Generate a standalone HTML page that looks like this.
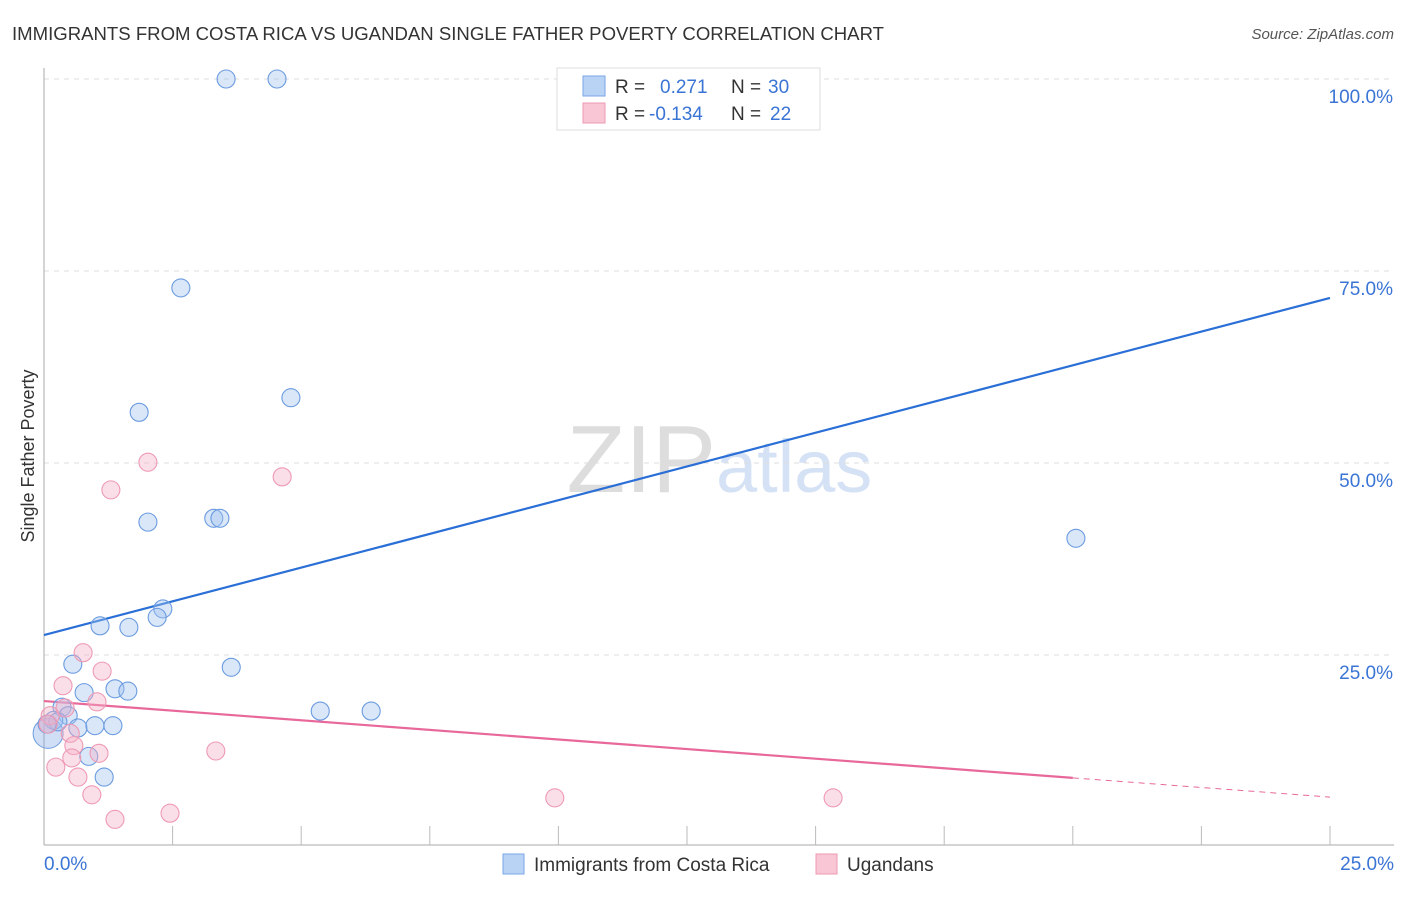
<!DOCTYPE html>
<html><head><meta charset="utf-8"><style>
body{margin:0;background:#fff;font-family:"Liberation Sans",sans-serif;}
svg text{font-family:"Liberation Sans",sans-serif;}
</style></head><body>
<svg width="1406" height="892" id="chart">
<text x="12" y="40" font-size="18" textLength="872" lengthAdjust="spacingAndGlyphs" fill="#333">IMMIGRANTS FROM COSTA RICA VS UGANDAN SINGLE FATHER POVERTY CORRELATION CHART</text>
<text x="1394" y="39" font-size="15" fill="#555" text-anchor="end" font-style="italic">Source: ZipAtlas.com</text>
<text x="716" y="492" font-size="96" fill="#ddd" text-anchor="end" font-family="Liberation Serif">ZIP</text>
<text x="716" y="492" font-size="74" fill="#d5e2f5">atlas</text>
<text transform="translate(34,456) rotate(-90)" font-size="18" fill="#333" text-anchor="middle">Single Father Poverty</text>
<g id="grid"></g><g id="axes"></g><g id="trend"></g><g id="pts"></g>
<g>
<rect x="557" y="68" width="263" height="62" fill="#fff" stroke="#ddd"/>
<rect x="583" y="76" width="22" height="20" fill="#b9d3f5" stroke="#7aa6e6"/>
<rect x="583" y="103" width="22" height="20" fill="#f8c6d5" stroke="#ee9ab3"/>
<text x="615" y="93" font-size="19" fill="#333">R = <tspan x="660" fill="#3a74d4">0.271</tspan><tspan x="731" fill="#333">N = </tspan><tspan x="768" fill="#3a74d4">30</tspan></text>
<text x="615" y="120" font-size="19" fill="#333">R = <tspan x="649" fill="#3a74d4">-0.134</tspan><tspan x="731" fill="#333">N = </tspan><tspan x="770" fill="#3a74d4">22</tspan></text>
</g>
<g>
<rect x="503" y="854" width="21" height="20" fill="#b9d3f5" stroke="#7aa6e6"/>
<text x="534" y="871" font-size="19" fill="#333">Immigrants from Costa Rica</text>
<rect x="816" y="854" width="21" height="20" fill="#f8c6d5" stroke="#ee9ab3"/>
<text x="847" y="871" font-size="19" fill="#333">Ugandans</text>
</g>
</svg>
<script>
const blueX=[3.54,4.53,2.66,1.85,4.80,2.02,3.30,3.42,2.31,2.20,1.09,1.65,0.56,3.64,0.78,1.38,1.63,0.35,0.47,0.19,0.27,0.06,0.66,0.99,1.34,0.87,1.17,5.37,6.36,20.06];
const blueY=[100,100,72.8,56.6,58.5,42.3,42.8,42.8,31.0,29.9,28.8,28.6,23.8,23.4,20.1,20.6,20.3,18.2,17.1,16.5,16.3,16.0,15.5,15.8,15.8,11.8,9.1,17.7,17.7,40.2];
const pinkX=[2.02,1.30,4.63,0.76,1.13,0.37,1.03,0.41,0.12,0.51,0.58,1.07,0.54,3.34,0.23,0.66,0.93,1.38,2.45,9.93,15.34,0.08];
const pinkY=[50.1,46.5,48.2,25.3,22.9,21.0,18.9,18.1,17.1,14.8,13.2,12.2,11.6,12.5,10.4,9.1,6.8,3.6,4.4,6.4,6.4,16.0];
const blueTrend=[27.6,71.5];
const pinkTrend=[19.0,6.5];
const yTicks=[25,50,75,100];
const yTickLabels=["25.0%","50.0%","75.0%","100.0%"];
const NS="http://www.w3.org/2000/svg";
const X=v=>44+v/25*1286, Y=v=>847-v/100*768;
function mk(t,a,p){const e=document.createElementNS(NS,t);for(const k in a)e.setAttribute(k,a[k]);p.appendChild(e);return e;}
const grid=document.getElementById('grid'),axes=document.getElementById('axes'),trend=document.getElementById('trend'),pts=document.getElementById('pts');
yTicks.forEach((v,i)=>{
 const l=mk('line',{x1:44,x2:1394,y1:Y(v),y2:Y(v),stroke:'#ddd','stroke-dasharray':'5,5'},grid);
 
 
 const t=mk('text',{x:1393,y:Y(v)+24,'font-size':19,fill:'#3a74d4','text-anchor':'end'},grid);
 t.textContent=yTickLabels[i];
 
 
});
let a=mk('line',{x1:44,x2:44,y1:68,y2:845,stroke:'#aaa'},axes);


a=mk('line',{x1:44,x2:1394,y1:845,y2:845,stroke:'#aaa'},axes);


for(let i=1;i<=10;i++){const tk=mk('line',{x1:X(i*2.5),x2:X(i*2.5),y1:826,y2:845,stroke:'#bbb'},axes);
 
 }
let xl=mk('text',{x:44,y:870,'font-size':19,fill:'#3a74d4'},axes);xl.textContent='0.0%';


xl=mk('text',{x:1394,y:870,'font-size':19,fill:'#3a74d4','text-anchor':'end'},axes);xl.textContent='25.0%';


let tl=mk('line',{x1:X(0),y1:Y(blueTrend[0]),x2:X(25),y2:Y(blueTrend[1]),stroke:'#2a6fd6','stroke-width':2.2},trend);


const pAt=v=>pinkTrend[0]+(pinkTrend[1]-pinkTrend[0])*v/25;
tl=mk('line',{x1:X(0),y1:Y(pAt(0)),x2:X(20),y2:Y(pAt(20)),stroke:'#e8689a','stroke-width':2.2},trend);


tl=mk('line',{x1:X(20),y1:Y(pAt(20)),x2:X(25),y2:Y(pAt(25)),stroke:'#e8689a','stroke-width':1,'stroke-dasharray':'6,5'},trend);


let big=mk('circle',{cx:X(0.08),cy:Y(14.8),r:15,fill:'rgba(120,160,230,0.35)',stroke:'#6b9be0'},pts);


blueX.forEach((v,i)=>{const c=mk('circle',{cx:X(v),cy:Y(blueY[i]),r:9,fill:'rgba(160,196,240,0.4)',stroke:'#6b9be0','stroke-width':1.1},pts);
 
 });
pinkX.forEach((v,i)=>{const c=mk('circle',{cx:X(v),cy:Y(pinkY[i]),r:9,fill:'rgba(245,175,198,0.4)',stroke:'#ee9ab3','stroke-width':1.1},pts);
 
 });
</script>
</body></html>
